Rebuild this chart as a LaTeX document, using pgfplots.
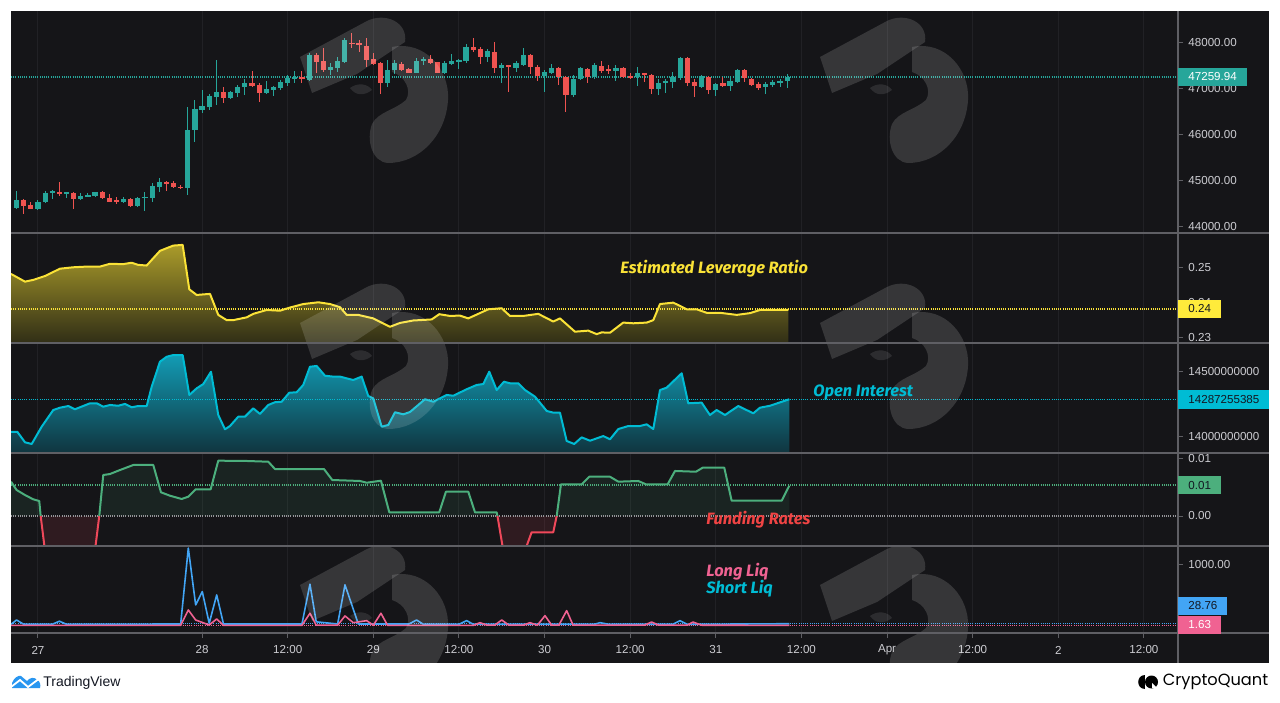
\documentclass[border=0pt]{standalone}
\usepackage{fontspec}
\setmainfont{Liberation Sans}
\newfontfamily\labfont{Fira Sans}
\newfontfamily\cqfont{Poppins}
\usepackage{pgfplots}
\usepackage{pgfplotstable}
\pgfplotsset{compat=1.18}

\definecolor{bg}{RGB}{21,21,24}
\definecolor{sepc}{RGB}{95,95,100}
\definecolor{gridc}{RGB}{33,33,37}
\definecolor{tickc}{RGB}{205,205,210}
\definecolor{cgreen}{RGB}{38,166,154}
\definecolor{cred}{RGB}{239,83,80}
\definecolor{lev}{RGB}{250,226,55}
\definecolor{levbox}{RGB}{255,235,59}
\definecolor{levtop}{RGB}{170,155,42}
\definecolor{levbot}{RGB}{48,46,22}
\definecolor{oi}{RGB}{0,188,212}
\definecolor{oitop}{RGB}{18,155,180}
\definecolor{oibot}{RGB}{16,52,62}
\definecolor{fgreen}{RGB}{76,175,125}
\definecolor{fred}{RGB}{239,72,90}
\definecolor{frtext}{RGB}{240,68,68}
\definecolor{lpink}{RGB}{240,98,146}
\definecolor{sblue}{RGB}{66,165,245}
\definecolor{tvblue}{RGB}{41,150,240}
\definecolor{tvtext}{RGB}{19,23,34}

\newcommand\tickfont{\fontsize{5.8pt}{6pt}\selectfont}
\newcommand\labf{\labfont\bfseries\itshape\fontsize{8.2pt}{9pt}\selectfont}

\pgfplotstableread{
b o h l c
-3 44406 44790 44385 44587
-2 44587 44602 44276 44464
-1 44479 44537 44385 44392
0 44385 44587 44370 44551
1 44537 44776 44515 44747
2 44747 44805 44602 44776
3 44754 44979 44682 44718
4 44732 44754 44638 44747
5 44747 44769 44385 44602
6 44602 44732 44587 44674
7 44660 44747 44645 44689
8 44674 44769 44660 44754
9 44761 44776 44609 44624
10 44638 44718 44544 44551
11 44587 44645 44500 44551
12 44544 44645 44529 44602
13 44602 44624 44443 44457
14 44457 44660 44443 44638
15 44638 44754 44356 44660
16 44631 44950 44537 44892
17 44877 45058 44754 44986
18 44979 45000 44790 44950
19 44950 45000 44841 44863
20 44877 44906 44834 44848
21 44841 46602 44696 46109
22 46109 46761 45855 46573
23 46544 46979 46471 46631
24 46602 46892 46544 46855
25 46834 47631 46652 46935
26 46935 47037 46703 46797
27 46797 46957 46776 46935
28 46906 47080 46834 47051
29 47051 47210 46870 47138
30 47138 47384 47037 47066
31 47087 47123 46725 46906
32 46906 47181 46892 47008
33 46979 47066 46855 47037
34 47029 47196 46979 47160
35 47138 47305 47073 47247
36 47225 47384 47123 47268
37 47254 47384 47123 47225
38 47196 47776 47174 47739
39 47739 47776 47341 47594
40 47609 47899 47377 47413
41 47413 47558 47305 47486
42 47464 47703 47377 47609
43 47594 48102 47558 48065
44 48008 48225 47884 47971
45 47993 48065 47812 47971
46 47942 48116 47486 47631
47 47645 47776 47522 47544
48 47573 47594 46892 47138
49 47138 47631 47051 47413
50 47413 47631 47326 47558
51 47544 47594 47392 47413
52 47428 47450 47341 47355
53 47355 47667 47341 47609
54 47616 47689 47522 47645
55 47645 47739 47544 47558
56 47580 47594 47341 47355
57 47355 47616 47326 47558
58 47544 47761 47522 47609
59 47594 47645 47435 47631
60 47609 47971 47573 47921
61 47906 48116 47812 47848
62 47863 47921 47544 47703
63 47689 47863 47594 47834
64 47812 48029 47355 47450
65 47450 47558 47123 47522
66 47515 47522 46942 47471
67 47464 47609 47377 47558
68 47522 47884 47500 47739
69 47739 47754 47326 47486
70 47486 47522 47174 47283
71 47283 47413 46942 47377
72 47355 47544 47326 47464
73 47450 47471 47080 47268
74 47254 47283 46500 46870
75 46870 47305 46819 47218
76 47210 47486 47196 47464
77 47435 47464 47138 47268
78 47268 47573 47210 47522
79 47508 47609 47355 47399
80 47435 47522 47326 47399
81 47399 47515 47174 47464
82 47464 47486 47232 47268
83 47283 47341 47210 47254
84 47268 47486 47066 47341
85 47341 47355 47160 47305
86 47305 47326 46892 46993
87 46993 47218 46870 47123
88 47123 47210 46921 47181
89 47160 47377 47015 47268
90 47232 47703 47196 47681
91 47681 47703 47066 47138
92 47160 47210 46834 47066
93 47037 47305 47015 47283
94 47268 47283 46884 46979
95 46979 47123 46848 47109
96 47123 47254 47037 47066
97 47066 47268 46964 47174
98 47160 47442 47138 47413
99 47413 47428 47160 47232
100 47210 47239 47066 47087
101 47109 47160 46979 47015
102 47037 47160 46892 47109
103 47087 47196 47037 47145
104 47123 47218 47037 47181
105 47174 47326 47015 47260
}\candles

\pgfplotsset{
  pane/.style={
    scale only axis, width=583.5pt, anchor=south west,
    xmin=-3.78, xmax=159.78, enlargelimits=false,
    scaled y ticks=false, scaled x ticks=false,
    axis line style={draw=none},
    ytick pos=right, yticklabel pos=right,
    tick align=outside, major tick length=2.5pt,
    ytick style={draw=sepc, line width=0.5pt},
    xtick={0,23,35,47,59,71,83,95,107,119,131,143,155},
    xticklabels={}, xtick style={draw=none},
    xmajorgrids, major grid style={draw=gridc, line width=0.5pt},
    yticklabel style={font=\tickfont, text=tickc, anchor=west, inner sep=0pt, xshift=2.5pt},
  },
  candle wick/.style={draw=none, forget plot, error bars/.cd, y dir=both, y explicit, error mark=none,
    error bar style={draw=#1, line width=0.5pt, solid}},
  candle body/.style={draw=none, forget plot, error bars/.cd, y dir=both, y explicit, error mark=none,
    error bar style={draw=#1, line width=2.6pt, solid}},
  dotl/.style={line width=0.6pt, dash pattern=on 0.5pt off 0.6pt, forget plot},
}

\newcommand\wm[2]{%
  \begin{scope}[shift={(#1,#2)}]
  \fill[white, fill opacity=0.14] (300,57) -- (367,21) .. controls (385,12) and (408,22) .. (405,42)
     -- (357,74) -- (312,93) -- cycle;
  \fill[white, fill opacity=0.14] (392,47) .. controls (425,40) and (450,70) .. (448,100)
     .. controls (446,135) and (420,163) .. (388,163)
     .. controls (372,162) and (366,140) .. (372,124)
     .. controls (378,112) and (395,110) .. (406,100)
     .. controls (412,90) and (405,76) .. (392,72) -- cycle;
  \fill[white, fill opacity=0.10] (350,88) .. controls (358,82) and (368,84) .. (372,90)
     .. controls (364,96) and (356,96) .. (350,88) -- cycle;
  \end{scope}}

\begin{document}
\begin{tikzpicture}
\fill[white] (0,0) rectangle (640pt,351pt);
\begin{scope}[x=0.5pt,y=-0.5pt,yshift=351pt]
\fill[bg] (11,11) rectangle (1269,663);
\end{scope}

% ---------- pane 1: price ----------
\begin{axis}[pane, at={(5.5pt,234.5pt)}, height=111pt,
  ymin=43869.6, ymax=48695.7,
  ytick={44000,45000,46000,47000,48000},
  yticklabels={44000.00,45000.00,46000.00,47000.00,48000.00}]
\addplot[dotl, draw=cgreen] coordinates {(-3.78,47260) (159.78,47260)};
\addplot[candle wick=cgreen] table[x=b, y expr={\thisrow{c}>=\thisrow{o} ? 0.5*(\thisrow{h}+\thisrow{l}) : nan}, y error expr={0.5*(\thisrow{h}-\thisrow{l})}] {\candles};
\addplot[candle wick=cred] table[x=b, y expr={\thisrow{c}<\thisrow{o} ? 0.5*(\thisrow{h}+\thisrow{l}) : nan}, y error expr={0.5*(\thisrow{h}-\thisrow{l})}] {\candles};
\addplot[candle body=cgreen] table[x=b, y expr={\thisrow{c}>=\thisrow{o} ? 0.5*(\thisrow{o}+\thisrow{c}) : nan}, y error expr={max(0.5*abs(\thisrow{c}-\thisrow{o}),11)}] {\candles};
\addplot[candle body=cred] table[x=b, y expr={\thisrow{c}<\thisrow{o} ? 0.5*(\thisrow{o}+\thisrow{c}) : nan}, y error expr={max(0.5*abs(\thisrow{c}-\thisrow{o}),11)}] {\candles};
\end{axis}

% ---------- pane 2: leverage ----------
\begin{axis}[pane, at={(5.5pt,179.5pt)}, height=55pt,
  ymin=0.228571, ymax=0.26,
  ytick={0.23,0.24,0.25}, yticklabels={0.23,0.24,0.25}]
\addplot[draw=none, top color=levtop, bottom color=levbot, forget plot] coordinates {
(-3.78,0.2483) (-1.82,0.2461) (-0.66,0.2466) (0.98,0.2477) (3.08,0.2498) (4.91,0.2502) (6.83,0.2504) (8.69,0.2504) (10.09,0.2512) (11.91,0.2511) (13.13,0.2515) (14.02,0.2509) (15.23,0.2507) (17.10,0.2549) (18.96,0.2564) (20.28,0.2566) (21.21,0.2439) (22.24,0.2423) (24.11,0.2426) (25.27,0.2366) (26.45,0.2351) (27.37,0.2351) (29.25,0.2359) (30.18,0.2369) (32.05,0.2380) (33.92,0.2378) (35.32,0.2387) (37.18,0.2397) (39.29,0.2402) (40.93,0.2397) (42.33,0.2388) (43.27,0.2366) (44.89,0.2366) (46.99,0.2356) (49.33,0.2332) (50.74,0.2343) (52.60,0.2350) (55.18,0.2353) (56.24,0.2368) (57.74,0.2363) (59.14,0.2364) (60.31,0.2356) (63.11,0.2382) (64.99,0.2385) (66.15,0.2363) (68.02,0.2363) (70.12,0.2369) (72.22,0.2347) (73.16,0.2356) (75.26,0.2318) (77.13,0.2321) (78.30,0.2311) (79.00,0.2316) (80.17,0.2315) (82.03,0.2344) (83.43,0.2342) (85.31,0.2344) (86.24,0.2351) (87.18,0.2397) (89.04,0.2401) (90.92,0.2382) (92.32,0.2382) (93.72,0.2372) (95.59,0.2372) (97.93,0.2366) (99.79,0.2371) (101.19,0.2380) (105.16,0.2380)
(105.16,0.2285) (-3.78,0.2285)};
\addplot[dotl, draw=lev] coordinates {(-3.78,0.2383) (159.78,0.2383)};
\addplot[draw=lev, line width=1pt, line join=round] coordinates {
(-3.78,0.2483) (-1.82,0.2461) (-0.66,0.2466) (0.98,0.2477) (3.08,0.2498) (4.91,0.2502) (6.83,0.2504) (8.69,0.2504) (10.09,0.2512) (11.91,0.2511) (13.13,0.2515) (14.02,0.2509) (15.23,0.2507) (17.10,0.2549) (18.96,0.2564) (20.28,0.2566) (21.21,0.2439) (22.24,0.2423) (24.11,0.2426) (25.27,0.2366) (26.45,0.2351) (27.37,0.2351) (29.25,0.2359) (30.18,0.2369) (32.05,0.2380) (33.92,0.2378) (35.32,0.2387) (37.18,0.2397) (39.29,0.2402) (40.93,0.2397) (42.33,0.2388) (43.27,0.2366) (44.89,0.2366) (46.99,0.2356) (49.33,0.2332) (50.74,0.2343) (52.60,0.2350) (55.18,0.2353) (56.24,0.2368) (57.74,0.2363) (59.14,0.2364) (60.31,0.2356) (63.11,0.2382) (64.99,0.2385) (66.15,0.2363) (68.02,0.2363) (70.12,0.2369) (72.22,0.2347) (73.16,0.2356) (75.26,0.2318) (77.13,0.2321) (78.30,0.2311) (79.00,0.2316) (80.17,0.2315) (82.03,0.2344) (83.43,0.2342) (85.31,0.2344) (86.24,0.2351) (87.18,0.2397) (89.04,0.2401) (90.92,0.2382) (92.32,0.2382) (93.72,0.2372) (95.59,0.2372) (97.93,0.2366) (99.79,0.2371) (101.19,0.2380) (105.16,0.2380)};
\end{axis}

% ---------- pane 3: open interest (billions) ----------
\begin{axis}[pane, at={(5.5pt,124.5pt)}, height=55pt,
  ymin=13.8746, ymax=14.7208,
  ytick={14,14.5}, yticklabels={14000000000,14500000000}]
\addplot[draw=none, top color=oitop, bottom color=oibot, forget plot] coordinates {
(-3.78,14.038) (-2.90,14.038) (-1.82,13.957) (-0.88,13.944) (0.52,14.077) (2.14,14.205) (3.08,14.223) (4.25,14.236) (5.19,14.211) (7.29,14.257) (8.23,14.257) (9.15,14.231) (10.09,14.244) (11.25,14.238) (12.19,14.252) (13.13,14.226) (14.06,14.236) (15.24,14.236) (15.94,14.385) (17.10,14.577) (18.04,14.615) (18.96,14.628) (20.28,14.628) (21.21,14.321) (22.24,14.372) (23.17,14.405) (24.25,14.500) (25.27,14.167) (26.21,14.057) (26.91,14.082) (28.07,14.154) (29.01,14.154) (30.18,14.218) (31.11,14.175) (32.28,14.244) (33.22,14.265) (34.16,14.269) (35.22,14.338) (36.26,14.342) (37.18,14.398) (38.12,14.538) (39.06,14.544) (40.22,14.469) (41.39,14.462) (42.33,14.462) (44.19,14.436) (45.37,14.462) (46.29,14.313) (46.99,14.295) (48.17,14.077) (49.10,14.090) (50.04,14.188) (51.20,14.172) (52.14,14.190) (54.24,14.288) (55.41,14.269) (57.29,14.321) (58.21,14.315) (60.08,14.365) (61.49,14.398) (62.41,14.405) (63.25,14.500) (64.29,14.359) (65.31,14.423) (66.15,14.411) (67.32,14.411) (68.26,14.359) (69.66,14.308) (71.30,14.198) (72.22,14.185) (73.16,14.185) (74.10,13.967) (75.16,13.944) (76.20,13.995) (77.37,13.969) (79.23,14.005) (80.17,13.980) (81.34,14.059) (82.73,14.082) (84.37,14.082) (85.31,14.095) (86.24,14.059) (87.18,14.359) (88.11,14.377) (90.22,14.488) (91.14,14.257) (93.02,14.262) (94.18,14.167) (95.12,14.205) (96.29,14.167) (98.15,14.236) (100.25,14.180) (101.19,14.223) (102.59,14.238) (105.30,14.288)
(105.30,13.87) (-3.78,13.87)};
\addplot[dotl, draw=oi] coordinates {(-3.78,14.2873) (159.78,14.2873)};
\addplot[draw=oi, line width=1pt, line join=round] coordinates {
(-3.78,14.038) (-2.90,14.038) (-1.82,13.957) (-0.88,13.944) (0.52,14.077) (2.14,14.205) (3.08,14.223) (4.25,14.236) (5.19,14.211) (7.29,14.257) (8.23,14.257) (9.15,14.231) (10.09,14.244) (11.25,14.238) (12.19,14.252) (13.13,14.226) (14.06,14.236) (15.24,14.236) (15.94,14.385) (17.10,14.577) (18.04,14.615) (18.96,14.628) (20.28,14.628) (21.21,14.321) (22.24,14.372) (23.17,14.405) (24.25,14.500) (25.27,14.167) (26.21,14.057) (26.91,14.082) (28.07,14.154) (29.01,14.154) (30.18,14.218) (31.11,14.175) (32.28,14.244) (33.22,14.265) (34.16,14.269) (35.22,14.338) (36.26,14.342) (37.18,14.398) (38.12,14.538) (39.06,14.544) (40.22,14.469) (41.39,14.462) (42.33,14.462) (44.19,14.436) (45.37,14.462) (46.29,14.313) (46.99,14.295) (48.17,14.077) (49.10,14.090) (50.04,14.188) (51.20,14.172) (52.14,14.190) (54.24,14.288) (55.41,14.269) (57.29,14.321) (58.21,14.315) (60.08,14.365) (61.49,14.398) (62.41,14.405) (63.25,14.500) (64.29,14.359) (65.31,14.423) (66.15,14.411) (67.32,14.411) (68.26,14.359) (69.66,14.308) (71.30,14.198) (72.22,14.185) (73.16,14.185) (74.10,13.967) (75.16,13.944) (76.20,13.995) (77.37,13.969) (79.23,14.005) (80.17,13.980) (81.34,14.059) (82.73,14.082) (84.37,14.082) (85.31,14.095) (86.24,14.059) (87.18,14.359) (88.11,14.377) (90.22,14.488) (91.14,14.257) (93.02,14.262) (94.18,14.167) (95.12,14.205) (96.29,14.167) (98.15,14.236) (100.25,14.180) (101.19,14.223) (102.59,14.238) (105.30,14.288)};
\end{axis}

% ---------- pane 4: funding rates ----------
\begin{axis}[pane, at={(5.5pt,78pt)}, height=46.5pt,
  ymin=-0.005217, ymax=0.010957,
  ytick={0,0.01}, yticklabels={0.00,0.01}]
\addplot[draw=none, fill=fgreen, fill opacity=0.10, forget plot] coordinates {(-3.78,0) (-3.78,0.00597) (-2.99,0.00452) (-1.82,0.00365) (-0.66,0.00290) (0.18,0.00261) (0.38,0)};
\addplot[draw=none, fill=fred, fill opacity=0.12, forget plot] coordinates {(0.38,0) (0.98,-0.006) (7.99,-0.006) (8.59,0)};
\addplot[draw=none, fill=fgreen, fill opacity=0.10, forget plot] coordinates {(8.59,0) (9.15,0.00713) (10.09,0.00730) (11.25,0.00788) (13.36,0.00887) (16.16,0.00887) (17.24,0.00412) (18.50,0.00353) (20.14,0.00296) (21.07,0.00336) (22.10,0.00464) (24.20,0.00464) (25.27,0.00962) (29.25,0.00957) (32.28,0.00944) (33.22,0.00817) (40.08,0.00817) (41.25,0.00626) (45.13,0.00609) (46.07,0.00579) (48.07,0.00614) (49.24,0.00064) (56.24,0.00064) (57.18,0.00423) (60.31,0.00423) (61.25,0.00064) (64.29,0.00064) (64.40,0)};
\addplot[draw=none, fill=fred, fill opacity=0.12, forget plot] coordinates {(64.40,0) (65.21,-0.006) (68.26,-0.006) (69.19,-0.00283) (72.22,-0.00283) (72.70,0)};
\addplot[draw=none, fill=fgreen, fill opacity=0.10, forget plot] coordinates {(72.70,0) (73.30,0.00551) (76.20,0.00551) (77.27,0.00683) (80.17,0.00683) (81.34,0.00597) (84.13,0.00609) (85.21,0.00551) (88.25,0.00551) (89.28,0.00783) (92.22,0.00770) (93.16,0.00840) (96.19,0.00840) (97.22,0.00266) (104.23,0.00266) (105.30,0.00527) (105.30,0)};
\addplot[dotl, draw=fgreen] coordinates {(-3.78,0.0054) (159.78,0.0054)};
\addplot[dotl, draw=tickc!70!bg] coordinates {(-3.78,0) (159.78,0)};
\addplot[draw=fgreen, line width=1pt, line join=round] coordinates {(-3.78,0.00597) (-2.99,0.00452) (-1.82,0.00365) (-0.66,0.00290) (0.18,0.00261) (0.38,0)};
\addplot[draw=fred, line width=1pt, line join=round] coordinates {(0.38,0) (0.98,-0.006) (7.99,-0.006) (8.59,0)};
\addplot[draw=fgreen, line width=1pt, line join=round] coordinates {(8.59,0) (9.15,0.00713) (10.09,0.00730) (11.25,0.00788) (13.36,0.00887) (16.16,0.00887) (17.24,0.00412) (18.50,0.00353) (20.14,0.00296) (21.07,0.00336) (22.10,0.00464) (24.20,0.00464) (25.27,0.00962) (29.25,0.00957) (32.28,0.00944) (33.22,0.00817) (40.08,0.00817) (41.25,0.00626) (45.13,0.00609) (46.07,0.00579) (48.07,0.00614) (49.24,0.00064) (56.24,0.00064) (57.18,0.00423) (60.31,0.00423) (61.25,0.00064) (64.29,0.00064) (64.40,0)};
\addplot[draw=fred, line width=1pt, line join=round] coordinates {(64.40,0) (65.21,-0.006) (68.26,-0.006) (69.19,-0.00283) (72.22,-0.00283) (72.70,0)};
\addplot[draw=fgreen, line width=1pt, line join=round] coordinates {(72.70,0) (73.30,0.00551) (76.20,0.00551) (77.27,0.00683) (80.17,0.00683) (81.34,0.00597) (84.13,0.00609) (85.21,0.00551) (88.25,0.00551) (89.28,0.00783) (92.22,0.00770) (93.16,0.00840) (96.19,0.00840) (97.22,0.00266) (104.23,0.00266) (105.30,0.00527)};
\end{axis}

% ---------- pane 5: liquidations ----------
\begin{axis}[pane, at={(5.5pt,34.5pt)}, height=43.5pt,
  ymin=-122.5, ymax=1299,
  ytick={1000}, yticklabels={1000.00},
  xticklabels={27,28,12:00,29,12:00,30,12:00,31,12:00,Apr,12:00,2,12:00},
  xtick pos=left, xtick style={draw=sepc, line width=0.5pt},
  xticklabel style={font=\tickfont, text=tickc, anchor=center, yshift=-6pt}]
\addplot[dotl, draw=sblue] coordinates {(-3.78,28.76) (159.78,28.76)};
\addplot[dotl, draw=lpink] coordinates {(-3.78,1.63) (159.78,1.63)};
\addplot[draw=sblue, line width=0.8pt, line join=round] coordinates {
(-3.78,20) (-3,90) (-2,20) (2,20) (3,70) (4,20) (20,25) (21.07,1265) (22.1,336) (23.03,554) (24,36) (25.05,500) (26,25) (37,25) (38.12,675) (39,60) (42,25) (43.03,664) (44.9,25) (52,25) (53.07,90) (54,20) (59,20) (60.08,80) (61,20) (78,20) (78.77,46) (80,20) (89,20) (89.98,79) (91,20) (105.3,29)};
\addplot[draw=lpink, line width=0.8pt, line join=round] coordinates {
(-3.78,2) (20,2) (21.07,254) (22.1,90) (24,8) (25.05,107) (26,2) (37,2) (38.12,200) (39,5) (42,5) (43.03,156) (44.2,46) (46.07,79) (47,5) (48.07,200) (49,2) (61,2) (61.95,46) (63,5) (64,5) (65,90) (66,5) (68,5) (68.96,46) (70,5) (71.06,161) (72,5) (73,5) (74.1,243) (75,5) (85,5) (86,57) (87,5) (91,5) (91.8,57) (93,5) (105.3,1.63)};
\end{axis}

% ---------- overlay: watermarks, separators, boxes, labels ----------
\begin{scope}[x=0.5pt,y=-0.5pt,yshift=351pt]
\begin{scope}
\clip (11,11) rectangle (1178,663);
\wm{0}{0}\wm{520}{0}\wm{0}{266}\wm{520}{266}\wm{0}{528}\wm{520}{528}
\end{scope}
\foreach \yy in {233,343,453,546,633} {\draw[sepc, line width=0.6pt] (11,\yy) -- (1269,\yy);}
\draw[sepc, line width=0.6pt] (1178,11) -- (1178,663);

\node[fill=cgreen, text=white, anchor=west, font=\tickfont, inner xsep=5pt, inner ysep=0pt, minimum height=9pt] at (1178,77) {47259.94};
\node[fill=levbox, text=tvtext, anchor=west, font=\tickfont, inner xsep=5pt, inner ysep=0pt, minimum height=9pt] at (1178,309) {0.24};
\node[fill=oi, text=tvtext, anchor=west, font=\tickfont, inner xsep=5pt, inner ysep=0pt, minimum height=9.5pt] at (1178,399.5) {14287255385};
\node[fill=fgreen, text=tvtext, anchor=west, font=\tickfont, inner xsep=5pt, inner ysep=0pt, minimum height=9pt] at (1178,485.5) {0.01};
\node[fill=sblue, text=tvtext, anchor=west, font=\tickfont, inner xsep=5pt, inner ysep=0pt, minimum height=9pt] at (1178,606) {28.76};
\node[fill=lpink, text=white, anchor=west, font=\tickfont, inner xsep=5pt, inner ysep=0pt, minimum height=9pt] at (1178,624.5) {1.63};

\node[anchor=west, inner sep=0pt, text=lev] at (620,269) {\labf Estimated Leverage Ratio};
\node[anchor=west, inner sep=0pt, text=oi] at (813,393) {\labf Open Interest};
\node[anchor=west, inner sep=0pt, text=frtext] at (706,520) {\labf Funding Rates};
\node[anchor=west, inner sep=0pt, text=lpink] at (706,572) {\labf Long Liq};
\node[anchor=west, inner sep=0pt, text=oi] at (706,589) {\labf Short Liq};

% TradingView logo
\fill[tvblue] (12,688) -- (12,683) .. controls (14,678) and (18,675) .. (21,676) -- (27,681) .. controls (30,677) and (35,677) .. (37,680) .. controls (40,681) and (41,685) .. (40,688) -- cycle;
\draw[white, line width=0.9pt] (11,687) -- (20,680) -- (28,687) -- (40,678);
\node[anchor=west, inner sep=0pt, text=tvtext, font=\fontsize{7pt}{8pt}\selectfont] at (43,682.5) {TradingView};
% CryptoQuant logo
\fill[black] (1145,675) -- (1145,689) .. controls (1136,689) and (1136,675) .. (1145,675) -- cycle;
\fill[black] (1151.5,682) circle [radius=6.5];
\fill[white] (1152,683) -- (1157,688) -- (1152,688) -- cycle;
\node[anchor=west, inner sep=0pt, text=black, font=\cqfont\fontsize{8.1pt}{9pt}\selectfont] at (1162.5,682) {CryptoQuant};
\end{scope}
\pgfresetboundingbox
\useasboundingbox (0,0) rectangle (640pt,351pt);
\end{tikzpicture}
\end{document}
